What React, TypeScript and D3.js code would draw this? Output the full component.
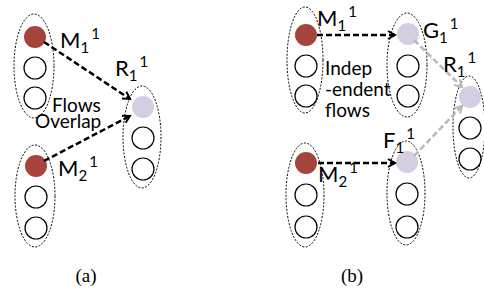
import React from "react";
import * as d3 from "d3";

const RED = "#a5443d";
const LILAC = "#d5cde2";
const GREY = "#b9b9b9";

// groups of slots (dotted ellipses), first slot may be coloured
const groups = [
  { cx: 34, cy: 66, rx: 20, ry: 52, slots: [37, 68, 98], first: RED },
  { cx: 35, cy: 196, rx: 20, ry: 51, slots: [166, 197, 228], first: RED },
  { cx: 142, cy: 137, rx: 19, ry: 51, slots: [107, 138, 169], first: LILAC },
  { cx: 305, cy: 60, rx: 18, ry: 53, slots: [35, 66, 96], first: RED },
  { cx: 407, cy: 65, rx: 20, ry: 52, slots: [34, 66, 96], first: LILAC },
  { cx: 305, cy: 195, rx: 19, ry: 52, slots: [163, 195, 227], first: RED },
  { cx: 406, cy: 193, rx: 19, ry: 52, slots: [162, 194, 227], first: LILAC },
  { cx: 469, cy: 127, rx: 16, ry: 51, slots: [97, 128, 159], first: LILAC },
];

const arrows = [
  { from: [44, 42], to: [130, 99], grey: false },
  { from: [44, 161], to: [130, 116], grey: false },
  { from: [317, 35], to: [395, 35], grey: false },
  { from: [318, 163], to: [395, 163], grey: false },
  { from: [414, 40], to: [462, 87], grey: true },
  { from: [414, 156], to: [462, 106], grey: true },
];

const labels = [
  { x: 60, y: 48, main: "M", sub: "1" },
  { x: 115, y: 76, main: "R", sub: "1" },
  { x: 58, y: 176, main: "M", sub: "2" },
  { x: 317, y: 26, main: "M", sub: "1" },
  { x: 423, y: 38, main: "G", sub: "1" },
  { x: 443, y: 72, main: "R", sub: "1" },
  { x: 383, y: 148, main: "F", sub: "1" },
  { x: 318, y: 182, main: "M", sub: "2" },
];

const notes = [
  { x: 52, y: 112, lines: ["Flows"] },
  { x: 35, y: 128, lines: ["Overlap"] },
  { x: 325, y: 75, lines: ["Indep", "-endent", "flows"] },
];

const captions = [
  { x: 86, text: "(a)" },
  { x: 352, text: "(b)" },
];

const line = d3.line();

export default function App() {
  return (
    <svg width={484} height={290} style={{ position: "absolute", left: 0, top: 0 }}>
      <defs>
        <marker id="headK" viewBox="0 0 10 10" refX="8" refY="5" markerWidth="10" markerHeight="10" markerUnits="userSpaceOnUse" orient="auto">
          <path d="M1,1 L8,5 L1,9" fill="none" stroke="#000" strokeWidth="2" />
        </marker>
        <marker id="headG" viewBox="0 0 10 10" refX="8" refY="5" markerWidth="10" markerHeight="10" markerUnits="userSpaceOnUse" orient="auto">
          <path d="M1,1 L8,5 L1,9" fill="none" stroke={GREY} strokeWidth="2" />
        </marker>
      </defs>
      {groups.map((g, i) => (
        <g key={i}>
          <ellipse cx={g.cx} cy={g.cy} rx={g.rx} ry={g.ry} fill="none" stroke="#000" strokeWidth={1} strokeDasharray="2,1.5" />
          {g.slots.map((y, j) => (
            <circle key={j} cx={g.cx + 1} cy={y} r={11}
              fill={j === 0 ? g.first : "#fff"}
              stroke={j === 0 ? "none" : "#000"} strokeWidth={1.2} />
          ))}
        </g>
      ))}
      {arrows.map((a, i) => (
        <path key={i} d={line([a.from as [number, number], a.to as [number, number]]) || ""}
          stroke={a.grey ? GREY : "#000"} strokeWidth={2.5} strokeDasharray="6,3" fill="none"
          markerEnd={`url(#${a.grey ? "headG" : "headK"})`} />
      ))}
      <g fontFamily="Lato, 'Open Sans', sans-serif" fill="#000">
        {labels.map((l, i) => (
          <text key={i} x={l.x} y={l.y} fontSize={22}>
            {l.main}
            <tspan dy={5} fontSize={15}>{l.sub}</tspan>
            <tspan dx={2} dy={-14} fontSize={15}>1</tspan>
          </text>
        ))}
        {notes.map((n, i) => (
          <text key={i} x={n.x} y={n.y} fontSize={19}>
            {n.lines.map((t, j) => (
              <tspan key={j} x={n.x} dy={j === 0 ? 0 : 21}>{t}</tspan>
            ))}
          </text>
        ))}
      </g>
      {captions.map((c, i) => (
        <text key={i} x={c.x} y={282} textAnchor="middle" fontFamily="'Liberation Serif', serif" fontSize={19}>{c.text}</text>
      ))}
    </svg>
  );
}
